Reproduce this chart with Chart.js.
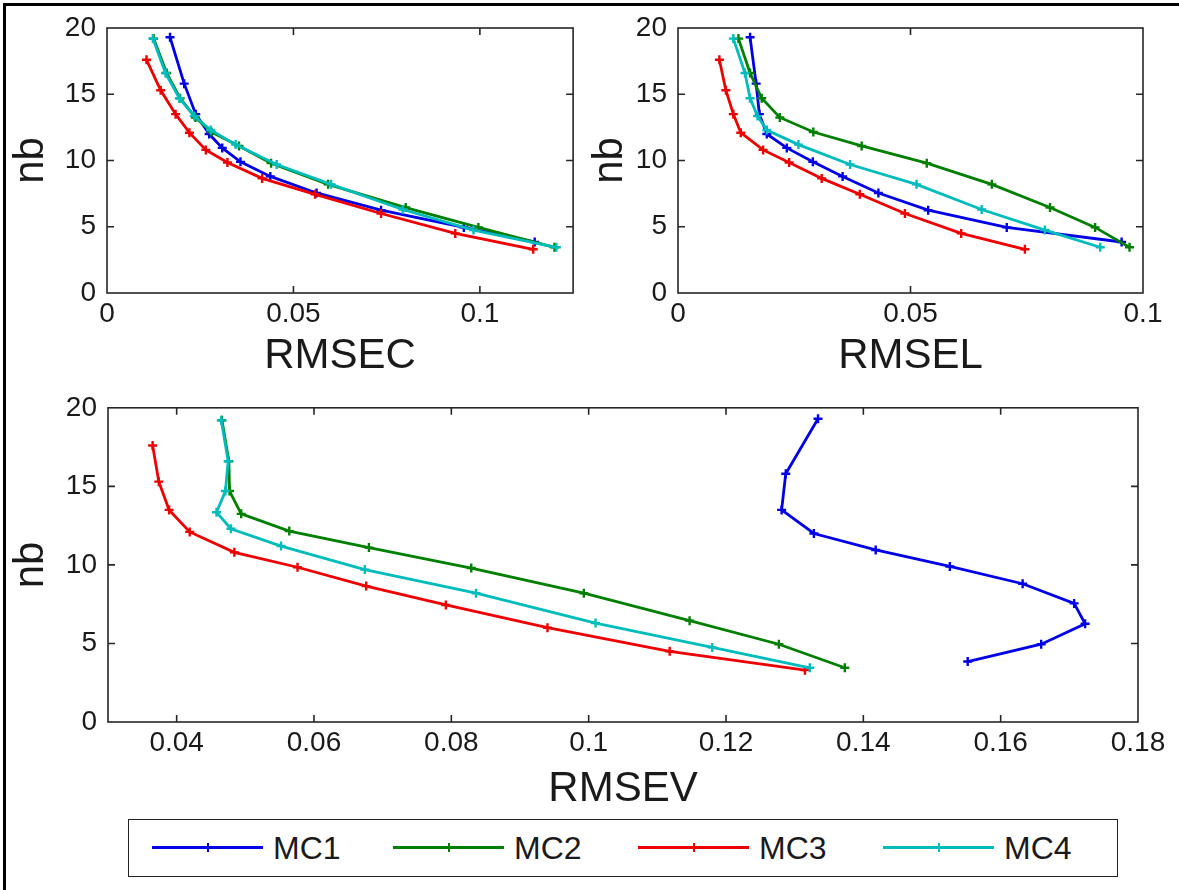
<!DOCTYPE html>
<html><head><meta charset="utf-8">
<script src="https://cdn.jsdelivr.net/npm/chart.js@4.4.1/dist/chart.umd.min.js"></script>
<style>
html,body{margin:0;padding:0;background:#fff;}
body{width:1179px;height:890px;position:relative;overflow:hidden;font-family:"Liberation Sans",Arial,sans-serif;}
#frame{position:absolute;left:3px;top:3px;width:1176px;height:887px;border-top:3px solid #000;border-left:3px solid #000;}
.cw{position:absolute;}
#legend{position:absolute;left:128px;top:819px;width:990px;height:58px;border:1.5px solid #222;box-sizing:border-box;background:#fff;}
.li{position:absolute;height:3px;}
.lm{position:absolute;width:2px;height:9px;}
.lt{position:absolute;font-size:32px;line-height:32px;color:#1a1a1a;}
</style></head><body>
<div id="frame"></div>
<div class="cw" style="left:0;top:0;"><canvas id="c1" width="580" height="390"></canvas></div>
<div class="cw" style="left:580px;top:0;"><canvas id="c2" width="599" height="390"></canvas></div>
<div class="cw" style="left:0;top:380px;"><canvas id="c3" width="1179" height="440"></canvas></div>
<script>
// ---- data ----
const seriesNames = ['MC1', 'MC2', 'MC3', 'MC4'];
const seriesColors = ['#0000e6', '#007f00', '#ee0000', '#00bcbc'];

// nb (y) per series
const nbMC1 = [19.3, 15.8, 13.5, 12.0, 10.95, 9.9, 8.8, 7.55, 6.25, 4.95, 3.85];
const nbMC2 = [19.2, 16.6, 14.7, 13.25, 12.15, 11.1, 9.8, 8.2, 6.45, 4.95, 3.45];
const nbMC3 = [17.6, 15.3, 13.5, 12.1, 10.8, 9.85, 8.65, 7.45, 6.0, 4.5, 3.3];
const nbMC4 = [19.2, 16.6, 14.7, 13.35, 12.3, 11.2, 9.7, 8.2, 6.3, 4.75, 3.45];

// RMSEC (top-left)
const rmsecMC1 = [0.0169, 0.0207, 0.0238, 0.0274, 0.0309, 0.0358, 0.0438, 0.0562, 0.0735, 0.0957, 0.1147];
const rmsecMC2 = [0.0125, 0.0160, 0.0196, 0.0237, 0.0280, 0.0354, 0.0440, 0.0593, 0.0801, 0.0996, 0.1200];
const rmsecMC3 = [0.0106, 0.0144, 0.0184, 0.0221, 0.0265, 0.0323, 0.0416, 0.0558, 0.0735, 0.0934, 0.1143];
const rmsecMC4 = [0.0123, 0.0157, 0.0194, 0.0234, 0.0278, 0.0345, 0.0455, 0.0601, 0.0793, 0.0983, 0.1205];

// RMSEL (top-right)
const rmselMC1 = [0.0155, 0.0168, 0.0175, 0.0191, 0.0234, 0.0290, 0.0354, 0.0431, 0.0538, 0.0707, 0.0954];
const rmselMC2 = [0.0130, 0.0155, 0.0180, 0.0219, 0.0291, 0.0395, 0.0535, 0.0675, 0.0800, 0.0897, 0.0971];
const rmselMC3 = [0.0089, 0.0103, 0.0119, 0.0135, 0.0183, 0.0239, 0.0309, 0.0391, 0.0488, 0.0609, 0.0746];
const rmselMC4 = [0.0119, 0.0144, 0.0155, 0.0171, 0.0191, 0.0259, 0.0370, 0.0513, 0.0653, 0.0789, 0.0908];

// RMSEV (bottom)
const rmsevMC1 = [0.1334, 0.1287, 0.1281, 0.1328, 0.1418, 0.1526, 0.1632, 0.1707, 0.1723, 0.1659, 0.1552];
const rmsevMC2 = [0.0466, 0.0476, 0.0477, 0.0494, 0.0564, 0.0680, 0.0829, 0.0993, 0.1147, 0.1277, 0.1373];
const rmsevMC3 = [0.0365, 0.0374, 0.0389, 0.0419, 0.0484, 0.0576, 0.0676, 0.0792, 0.0940, 0.1118, 0.1315];
const rmsevMC4 = [0.0465, 0.0475, 0.0471, 0.0458, 0.0479, 0.0552, 0.0674, 0.0836, 0.1010, 0.1180, 0.1322];

// tick labels
const yTicks = [0, 5, 10, 15, 20];
const xTicksC = [0, 0.05, 0.1];
const xTicksL = [0, 0.05, 0.1];
const xTicksV = [0.04, 0.06, 0.08, 0.1, 0.12, 0.14, 0.16, 0.18];

// ---- drawing ----
const FONT = '"Liberation Sans", Arial, sans-serif';
const nbs = [nbMC1, nbMC2, nbMC3, nbMC4];

function makeDatasets(xsList) {
  return xsList.map((xs, i) => ({
    label: seriesNames[i],
    data: xs.map((x, k) => ({x: x, y: nbs[i][k]})),
    showLine: true,
    borderColor: seriesColors[i],
    backgroundColor: seriesColors[i],
    borderWidth: 2.8,
    pointStyle: 'cross',
    pointRadius: 4.5,
    pointBorderWidth: 2.4,
    pointHoverRadius: 4.5,
    tension: 0,
    order: 4 - i
  }));
}

const boxTicks = {
  id: 'boxTicks',
  afterDatasetsDraw(chart) {
    const {ctx, chartArea: a, scales: {x, y}} = chart;
    ctx.save();
    ctx.strokeStyle = '#262626';
    ctx.lineWidth = 1.6;
    const L = 7;
    ctx.beginPath();
    x.ticks.forEach(t => {
      const p = x.getPixelForValue(t.value);
      if (p > a.left + 2 && p < a.right - 2) {
        ctx.moveTo(p, a.bottom); ctx.lineTo(p, a.bottom - L);
        ctx.moveTo(p, a.top); ctx.lineTo(p, a.top + L);
      }
    });
    y.ticks.forEach(t => {
      const p = y.getPixelForValue(t.value);
      if (p > a.top + 2 && p < a.bottom - 2) {
        ctx.moveTo(a.left, p); ctx.lineTo(a.left + L, p);
        ctx.moveTo(a.right, p); ctx.lineTo(a.right - L, p);
      }
    });
    ctx.stroke();
    ctx.strokeRect(a.left, a.top, a.width, a.height);
    ctx.restore();
  }
};

function fmt(v) { return String(+Number(v).toFixed(4)); }

function makeChart(id, xsList, cfg) {
  return new Chart(document.getElementById(id), {
    type: 'scatter',
    data: {datasets: makeDatasets(xsList)},
    plugins: [boxTicks],
    options: {
      responsive: false,
      animation: false,
      devicePixelRatio: 1,
      layout: {padding: cfg.pad},
      plugins: {legend: {display: false}, tooltip: {enabled: false}},
      scales: {
        x: {
          type: 'linear', position: 'bottom', min: cfg.xmin, max: cfg.xmax,
          afterBuildTicks: s => { s.ticks = cfg.xticks.map(v => ({value: v})); },
          afterFit: s => { s.height = cfg.xh; },
          grid: {display: false, drawTicks: false},
          border: {display: false},
          ticks: {padding: cfg.xtp, autoSkip: false, maxRotation: 0, color: '#1a1a1a',
                  font: {family: FONT, size: 28}, callback: v => fmt(v)},
          title: {display: true, text: cfg.xtitle, color: '#1a1a1a',
                  font: {family: FONT, size: 42}, padding: {top: 0, bottom: cfg.xttb}}
        },
        y: {
          type: 'linear', position: 'left', min: 0, max: 20,
          afterBuildTicks: s => { s.ticks = yTicks.map(v => ({value: v})); },
          afterFit: s => { s.width = cfg.yw; },
          grid: {display: false, drawTicks: false},
          border: {display: false},
          ticks: {padding: 11, autoSkip: false, color: '#1a1a1a',
                  font: {family: FONT, size: 28}, callback: v => fmt(v)},
          title: {display: true, text: 'nb', color: '#1a1a1a',
                  font: {family: FONT, size: 42}, padding: {top: cfg.ytt, bottom: 0}}
        }
      }
    }
  });
}

makeChart('c1', [rmsecMC1, rmsecMC2, rmsecMC3, rmsecMC4], {
  pad: {left: 0, top: 28, right: 5, bottom: 0}, xmin: 0, xmax: 0.125, xticks: xTicksC,
  xh: 97, xtp: 4, xtitle: 'RMSEC', xttb: 8, yw: 107, ytt: 6
});
makeChart('c2', [rmselMC1, rmselMC2, rmselMC3, rmselMC4], {
  pad: {left: 0, top: 28, right: 36, bottom: 0}, xmin: 0, xmax: 0.1, xticks: xTicksL,
  xh: 97, xtp: 4, xtitle: 'RMSEL', xttb: 8, yw: 98, ytt: 5
});
makeChart('c3', [rmsevMC1, rmsevMC2, rmsevMC3, rmsevMC4], {
  pad: {left: 0, top: 11, right: 41, bottom: 0}, xmin: 0.03, xmax: 0.18, xticks: xTicksV,
  xh: 98, xtp: 4, xtitle: 'RMSEV', xttb: 5, yw: 108, ytt: 6
});

// legend (HTML, real text)
const leg = document.createElement('div');
leg.id = 'legend';
document.body.appendChild(leg);
const itemX = [151, 392, 637, 882];
seriesNames.forEach((n, i) => {
  const x0 = itemX[i] - 128;
  const line = document.createElement('div');
  line.className = 'li';
  line.style.cssText = `left:${x0}px;top:26px;width:111px;background:${seriesColors[i]}`;
  leg.appendChild(line);
  const m = document.createElement('div');
  m.className = 'lm';
  m.style.cssText = `left:${x0 + 55}px;top:23px;background:${seriesColors[i]}`;
  leg.appendChild(m);
  const t = document.createElement('div');
  t.className = 'lt';
  t.textContent = n;
  t.style.cssText = `left:${x0 + 121}px;top:12px;`;
  leg.appendChild(t);
});
</script>
</body></html>
